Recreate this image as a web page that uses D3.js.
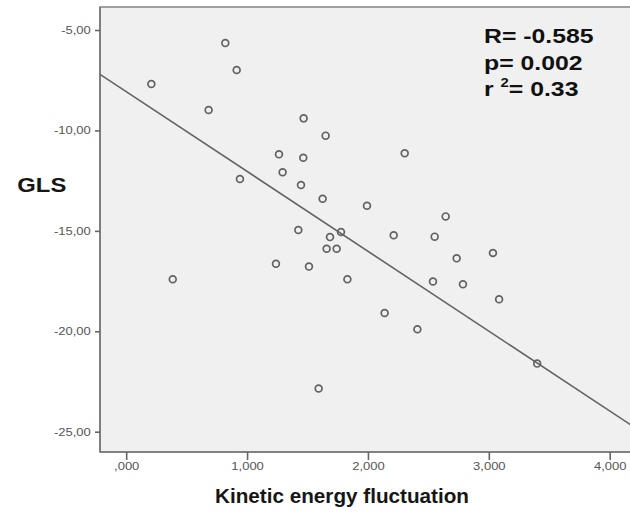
<!DOCTYPE html>
<html>
<head>
<meta charset="utf-8">
<script src="https://cdn.jsdelivr.net/npm/d3@7"></script>
<style>
  body { margin: 0; background: #fff; }
  svg { display: block; font-family: "Liberation Sans", Arial, sans-serif; }
</style>
</head>
<body>
<div class="chart"></div>
<script>
/*------------------------------- data -------------------------------*/

// kinetic energy fluctuation (x) and GLS (y)
const kineticEnergy = [0.208, 0.820, 0.914, 0.682, 0.941, 0.385, 1.468, 1.650, 1.264, 1.465,
    2.304, 1.294, 1.446, 1.625, 1.992, 2.643, 1.424, 1.686, 1.777, 2.213,
    2.552, 1.658, 1.741, 1.239, 1.512, 1.830, 2.538, 2.734, 3.034, 2.786,
    3.085, 2.138, 2.409, 1.592, 3.400];
const gls = [-7.69, -5.65, -6.99, -8.98, -12.42, -17.41, -9.40, -10.26, -11.19, -11.36,
    -11.14, -12.08, -12.72, -13.40, -13.75, -14.28, -14.96, -15.31, -15.06, -15.22,
    -15.29, -15.89, -15.89, -16.64, -16.78, -17.41, -17.52, -16.37, -16.10, -17.66,
    -18.41, -19.09, -19.90, -22.85, -21.61];

const xTicks = [0, 1, 2, 3, 4];
const yTicks = [-5, -10, -15, -20, -25];

// fit line as drawn
const fitIntercept = -8.067;
const fitSlope = -3.975;

const statLines = ["R= -0.585", "p= 0.002"];
const rSquared = "0.33";

/*------------------------------- layout -------------------------------*/

const size = { width: 630, height: 516 };
const plot = { left: 100, top: 7, right: 640, bottom: 452 };

const svg = d3.select(".chart").append("svg")
    .attr("width", size.width)
    .attr("height", size.height);

const x = d3.scaleLinear().domain([0, 4]).range([126.2, 609.7]);
const y = d3.scaleLinear().domain([-5, -25]).range([30, 431.7]);

// comma as decimal mark and plain hyphen, SPSS style
const locale = d3.formatLocale({ decimal: ",", thousands: ".", grouping: [3], currency: ["", ""], minus: "-" });
const fx = v => locale.format(".3f")(v).replace(/^0,/, ",");
const fy = locale.format(".2f");

/*------------------------------- plot frame -------------------------------*/

svg.append("rect")
    .attr("x", plot.left)
    .attr("y", plot.top)
    .attr("width", plot.right - plot.left)
    .attr("height", plot.bottom - plot.top)
    .attr("fill", "#f0f0f0")
    .attr("stroke", "#8a8a8a")
    .attr("stroke-width", 1.6);

svg.append("defs").append("clipPath").attr("id", "clip")
    .append("rect")
    .attr("x", plot.left).attr("y", plot.top)
    .attr("width", plot.right - plot.left).attr("height", plot.bottom - plot.top);

/*------------------------------- axes -------------------------------*/

const xAxis = svg.append("g")
    .attr("transform", `translate(0,${plot.bottom})`)
    .call(d3.axisBottom(x).tickValues(xTicks).tickFormat(fx).tickSize(8).tickPadding(2));

const yAxis = svg.append("g")
    .attr("transform", `translate(${plot.left},0)`)
    .call(d3.axisLeft(y).tickValues(yTicks).tickFormat(fy).tickSize(5).tickPadding(3));

[xAxis, yAxis].forEach(ax => {
    ax.select(".domain").attr("stroke", "#777").attr("stroke-width", 1.6);
    ax.selectAll(".tick line").attr("stroke", "#666").attr("stroke-width", 1.6);
    ax.selectAll(".tick text")
        .attr("fill", "#555")
        .style("font-size", "11px")
        .style("font-family", "'Liberation Sans', Arial, sans-serif");
});
xAxis.select(".domain").attr("d", `M${plot.left},0H${plot.right}`);
yAxis.select(".domain").attr("d", `M0,${plot.top}V${plot.bottom}`);

xAxis.selectAll(".tick text").attr("transform", "scale(1.18,1)");
yAxis.selectAll(".tick text").attr("x", -7.9).attr("transform", "scale(1.18,1)");

/*------------------------------- marks -------------------------------*/

const body = svg.append("g").attr("clip-path", "url(#clip)");

const xEnds = [x.invert(plot.left), x.invert(plot.right)];
body.append("line")
    .attr("x1", x(xEnds[0]))
    .attr("y1", y(fitIntercept + fitSlope * xEnds[0]))
    .attr("x2", x(xEnds[1]))
    .attr("y2", y(fitIntercept + fitSlope * xEnds[1]))
    .attr("stroke", "#626262")
    .attr("stroke-width", 1.6);

body.selectAll(".dot")
    .data(kineticEnergy.map((k, i) => ({ k: k, g: gls[i] })))
    .enter()
    .append("circle")
    .attr("class", "dot")
    .attr("cx", d => x(d.k))
    .attr("cy", d => y(d.g))
    .attr("r", 3.4)
    .attr("fill", "none")
    .attr("stroke", "#626262")
    .attr("stroke-width", 1.7);

/*------------------------------- labels -------------------------------*/

svg.append("text")
    .attr("x", 17.3).attr("y", 192)
    .attr("textLength", 49).attr("lengthAdjust", "spacingAndGlyphs")
    .style("font-size", "21px").style("font-weight", "bold")
    .attr("fill", "#161616")
    .text("GLS");

svg.append("text")
    .attr("x", 215).attr("y", 503)
    .attr("textLength", 254).attr("lengthAdjust", "spacingAndGlyphs")
    .style("font-size", "20px").style("font-weight", "bold")
    .attr("fill", "#161616")
    .text("Kinetic energy fluctuation");

const stats = svg.append("g")
    .attr("transform", "translate(484,0) scale(1.24,1)")
    .style("font-size", "20px").style("font-weight", "bold")
    .attr("fill", "#111");

stats.selectAll(".stat")
    .data(statLines)
    .enter()
    .append("text")
    .attr("class", "stat")
    .attr("x", 0)
    .attr("y", (d, i) => 43.3 + i * 26.3)
    .text(d => d);

const r2 = stats.append("text").attr("x", 0).attr("y", 96);
r2.append("tspan").text("r ");
r2.append("tspan").attr("dy", -9).style("font-size", "12px").text("2");
r2.append("tspan").attr("dy", 9).text(`= ${rSquared}`);
</script>
</body>
</html>
